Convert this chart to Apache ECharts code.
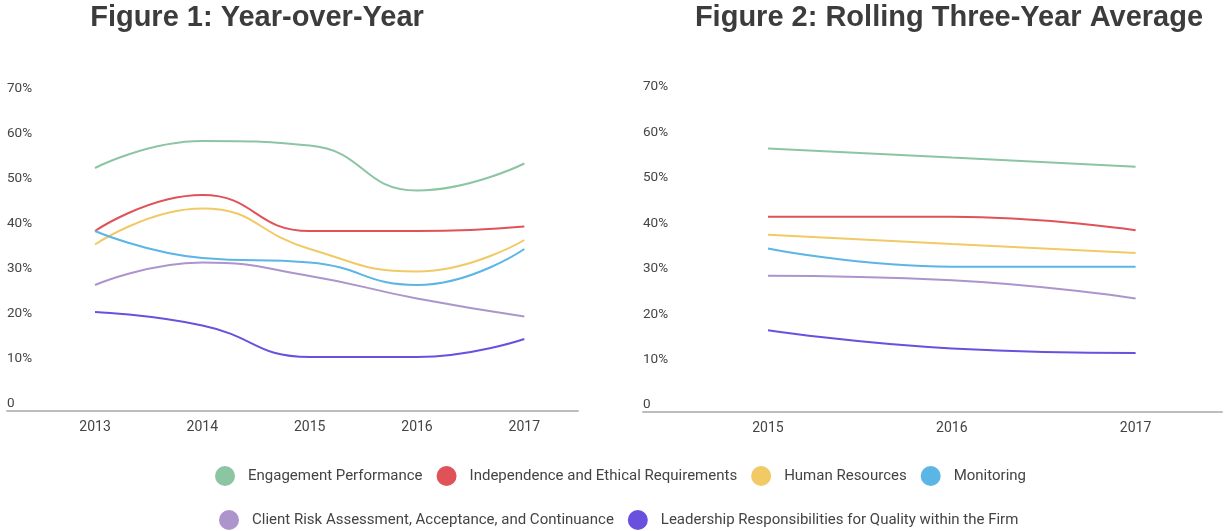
<!DOCTYPE html>
<html>
<head>
<meta charset="utf-8">
<script src="https://cdn.jsdelivr.net/npm/echarts@6/dist/echarts.min.js"></script>
<style>
  html, body { margin: 0; padding: 0; background: #fff; }
  #chart { width: 1225px; height: 531px; }
</style>
</head>
<body>
<div id="chart"></div>
<script>
// 数据
const seriesNames = [
  "Engagement Performance",
  "Independence and Ethical Requirements",
  "Human Resources",
  "Monitoring",
  "Client Risk Assessment, Acceptance, and Continuance",
  "Leadership Responsibilities for Quality within the Firm"
];
const colors = ["#8cc5a2", "#df5258", "#f1ca66", "#5bb5e5", "#ae94cc", "#6a50df"];

const yearsYoY = [2013, 2014, 2015, 2016, 2017];
const engagementYoY = [54, 60, 59, 49, 55];
const independenceYoY = [40, 48, 40, 40, 41];
const humanResYoY = [37, 45, 36, 31, 38];
const monitoringYoY = [40, 34, 33, 28, 36];
const clientRiskYoY = [28, 33, 30, 25, 21];
const leadershipYoY = [22, 19, 12, 12, 16];

const yearsRolling = [2015, 2016, 2017];
const engagementRolling = [58, 56, 54];
const independenceRolling = [43, 43, 40];
const humanResRolling = [39, 37, 35];
const monitoringRolling = [36, 32, 32];
const clientRiskRolling = [30, 29, 25];
const leadershipRolling = [18, 14, 13];

const yoy = [engagementYoY, independenceYoY, humanResYoY, monitoringYoY, clientRiskYoY, leadershipYoY];
const rolling = [engagementRolling, independenceRolling, humanResRolling, monitoringRolling, clientRiskRolling, leadershipRolling];

const chart = echarts.init(document.getElementById("chart"));

// x轴：用数值轴，只在年份处显示标签
function xAxisOf(gridIndex, years, min, max) {
  return {
    type: "value",
    gridIndex: gridIndex,
    min: min,
    max: max,
    axisLine: { show: true, lineStyle: { color: "#bdbdbd", width: 2 } },
    axisTick: { show: false },
    splitLine: { show: false },
    axisLabel: {
      customValues: years,
      formatter: (v) => String(v),
      color: "#444",
      fontFamily: "Roboto",
      fontSize: 14,
      margin: 9
    }
  };
}

// y轴：标签在网格内部，位于刻度线上方
function yAxisOf(gridIndex) {
  return {
    type: "value",
    gridIndex: gridIndex,
    min: 0,
    max: 70,
    interval: 10,
    axisLine: { show: false },
    axisTick: { show: false },
    splitLine: { show: false },
    axisLabel: {
      inside: true,
      margin: 0,
      color: "#444",
      fontFamily: "Roboto",
      fontSize: 13.5,
      verticalAlign: "bottom",
      padding: [0, 0, 0, 0],
      formatter: (v) => (v === 0 ? "0" : v + "%")
    }
  };
}

const series = [];
seriesNames.forEach((name, i) => {
  series.push({
    name: name,
    type: "line",
    xAxisIndex: 0,
    yAxisIndex: 0,
    smooth: 0.5,
    showSymbol: false,
    lineStyle: { width: 2, color: colors[i] },
    itemStyle: { color: colors[i] },
    data: yearsYoY.map((y, k) => [y, yoy[i][k]])
  });
  series.push({
    name: name,
    type: "line",
    xAxisIndex: 1,
    yAxisIndex: 1,
    smooth: 0.5,
    showSymbol: false,
    lineStyle: { width: 2, color: colors[i] },
    itemStyle: { color: colors[i] },
    data: yearsRolling.map((y, k) => [y, rolling[i][k]])
  });
});

const legendCommon = {
  icon: "circle",
  itemWidth: 20,
  itemHeight: 20,
  itemGap: 14,
  textStyle: { color: "#444", fontFamily: "Roboto", fontSize: 15, padding: [0, 0, 0, 8] },
  selectedMode: false
};

const titleStyle = { fontFamily: "Liberation Sans", fontSize: 29, fontWeight: "bold", color: "#3c3c3c" };

chart.setOption({
  animation: false,
  title: [
    { text: "Figure 1: Year-over-Year", left: 252, textAlign: "center", top: -2, textStyle: titleStyle },
    { text: "Figure 2: Rolling Three-Year Average", left: 944, textAlign: "center", top: -2, textStyle: titleStyle }
  ],
  legend: [
    Object.assign({}, legendCommon, { left: 210, top: 461, data: seriesNames.slice(0, 4) }),
    Object.assign({}, legendCommon, { left: 214, top: 505, data: seriesNames.slice(4) })
  ],
  grid: [
    { left: 7, right: 647, top: 96, bottom: 120 },
    { left: 643, right: 3, top: 94, bottom: 119 }
  ],
  xAxis: [
    xAxisOf(0, yearsYoY, 2012.18, 2017.5),
    xAxisOf(1, yearsRolling, 2014.32, 2017.47)
  ],
  yAxis: [yAxisOf(0), yAxisOf(1)],
  series: series
});
</script>
</body>
</html>
